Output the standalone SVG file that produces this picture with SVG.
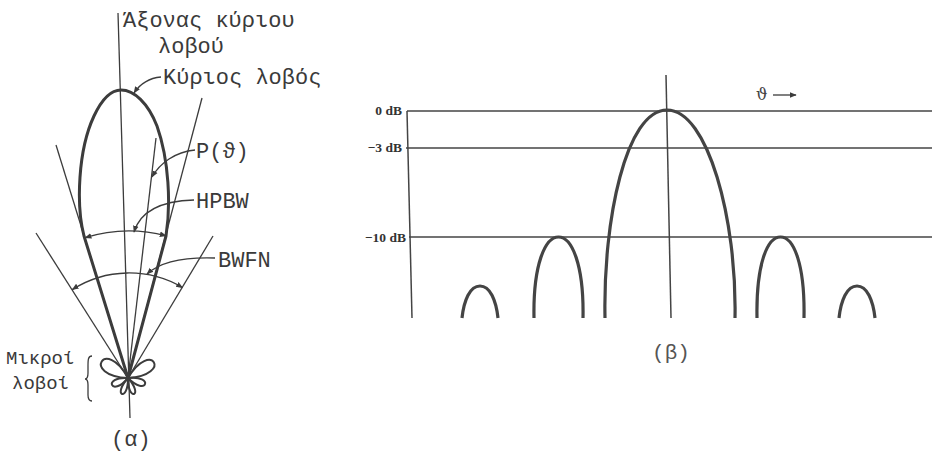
<svg xmlns="http://www.w3.org/2000/svg" width="932" height="452" viewBox="0 0 932 452">
<style>
.bg{fill:#ffffff}
.thin{fill:none;stroke:#3c3c3c;stroke-width:1.3}
.lobe{fill:none;stroke:#3c3c3c;stroke-width:3;stroke-linejoin:round}
.pet{fill:none;stroke:#3c3c3c;stroke-width:2}
.grid{fill:none;stroke:#444;stroke-width:1.5}
.blobe{fill:none;stroke:#444;stroke-width:3.2}
.gr{font-family:"Liberation Mono","DejaVu Sans Mono",monospace;font-size:22px;fill:#3a3a3a}
.sm{font-size:19px}
.db{font-family:"Liberation Serif","DejaVu Serif",serif;font-weight:bold;font-size:13.5px;fill:#333}
.cap{font-family:"Liberation Mono","DejaVu Sans Mono",monospace;font-size:21px;fill:#555}
</style>
<defs>
<marker id="ah" viewBox="0 0 10 10" refX="9" refY="5" markerWidth="7" markerHeight="7" markerUnits="userSpaceOnUse" orient="auto-start-reverse">
<path d="M0,1 L10,5 L0,9 Z" fill="#3c3c3c"/>
</marker>
</defs>
<rect class="bg" x="0" y="0" width="932" height="452"/>

<!-- (a) radiation pattern -->
<g id="pattern-a">
<path id="axis-a" class="thin" d="M118,13 L130,418"/>
<path id="main-lobe" class="lobe" d="M128,378 L84,236 C76,205 78,150 94,116 C102,99 111,90 121,90 C134,90 148,103 157,126 C169,160 171,205 166,236 Z"/>
<g id="minor-lobes">
<path class="pet" d="M128,378 C105.5,336.3 80.4,375.7 128,378 Z"/>
<path class="pet" d="M128,378 C151.1,338.9 173.7,375.1 128,378 Z"/>
<path class="pet" d="M128,378 C101.9,376.3 111.5,398.3 128,378 Z"/>
<path class="pet" d="M128,378 C154.7,374.7 146.7,397.3 128,378 Z"/>
<path class="pet" d="M128,378 C111.6,396.1 128.4,402.5 128,378 Z"/>
<path class="pet" d="M128,378 C127.6,402.5 144.4,396.1 128,378 Z"/>
</g>
<path id="brace" class="thin" d="M92,356 C88,356 88,360 88,366 L88,373 C88,377 87,379 85,379 C87,379 88,381 88,385 L88,395 C88,399 89,401 92,401"/>
</g>

<g id="connectors">
<path class="thin" d="M56,145 L128,378"/>
<path class="thin" d="M202,98 L128,378"/>
<path class="thin" d="M36,233 L128,378"/>
<path class="thin" d="M213,236 L128,378"/>
<path class="thin" d="M156,138 L128,378"/>
<path class="thin" marker-start="url(#ah)" marker-end="url(#ah)" d="M85.1,237.7 A147,147 0 0 1 166.1,235.8"/>
<path class="thin" marker-start="url(#ah)" marker-end="url(#ah)" d="M72.3,289.6 A105,105 0 0 1 182.5,287.6"/>
<path class="thin" marker-end="url(#ah)" d="M161,77 C150,78 140,84 134,93"/>
<path class="thin" marker-end="url(#ah)" d="M195,150 C175,152 160,163 152,177"/>
<path class="thin" marker-end="url(#ah)" d="M194,200 C160,201 140,212 134,232"/>
<path class="thin" marker-end="url(#ah)" d="M215,258 C185,257 160,262 147,274"/>
</g>

<g id="labels-a">
<text class="gr" x="123" y="27">Άξονας κύριου</text>
<text class="gr" x="158" y="53">λοβού</text>
<text class="gr" x="163" y="84">Κύριος λοβός</text>
<text class="gr" x="196" y="158">P(ϑ)</text>
<text class="gr" x="196" y="208">HPBW</text>
<text class="gr" x="218" y="267">BWFN</text>
<text class="gr sm" x="6" y="364">Μικροί</text>
<text class="gr sm" x="12" y="389">λοβοί</text>
<text class="gr" x="111" y="446">(α)</text>
</g>

<!-- (b) -->
<g id="pattern-b">
<path class="grid" d="M407,111 H932"/>
<path class="grid" d="M406,148 H932"/>
<path class="grid" d="M409,237 H932"/>
<path class="grid" d="M407,111 L412,318"/>
<path class="grid" d="M666,75 L671,318"/>
<path class="blobe" d="M605,318 C603,220 626,110 667,110 C708,110 737,220 735,318"/>
<path class="blobe" d="M534,318 C533,265 545,237 558.5,237 C572,237 584,265 583,318"/>
<path class="blobe" d="M757,318 C756,265 767,237 780.5,237 C794,237 805,265 804,318"/>
<path class="blobe" d="M462,318 C464,300 470,286 480,286 C490,286 496,300 498,318"/>
<path class="blobe" d="M839,318 C841,300 847,286 857,286 C867,286 873,300 875,318"/>
<path class="thin" marker-end="url(#ah)" d="M773,95 L796,95"/>
<text class="db" x="402" y="115" text-anchor="end">0 dB</text>
<text class="db" x="402" y="152" text-anchor="end">−3 dB</text>
<text class="db" x="406" y="242" text-anchor="end">−10 dB</text>
<text x="756" y="100" style="font-family:'DejaVu Serif','Liberation Serif',serif;font-size:16px;fill:#444">ϑ</text>
<text class="cap" x="671" y="359" text-anchor="middle">(β)</text>
</g>
</svg>
